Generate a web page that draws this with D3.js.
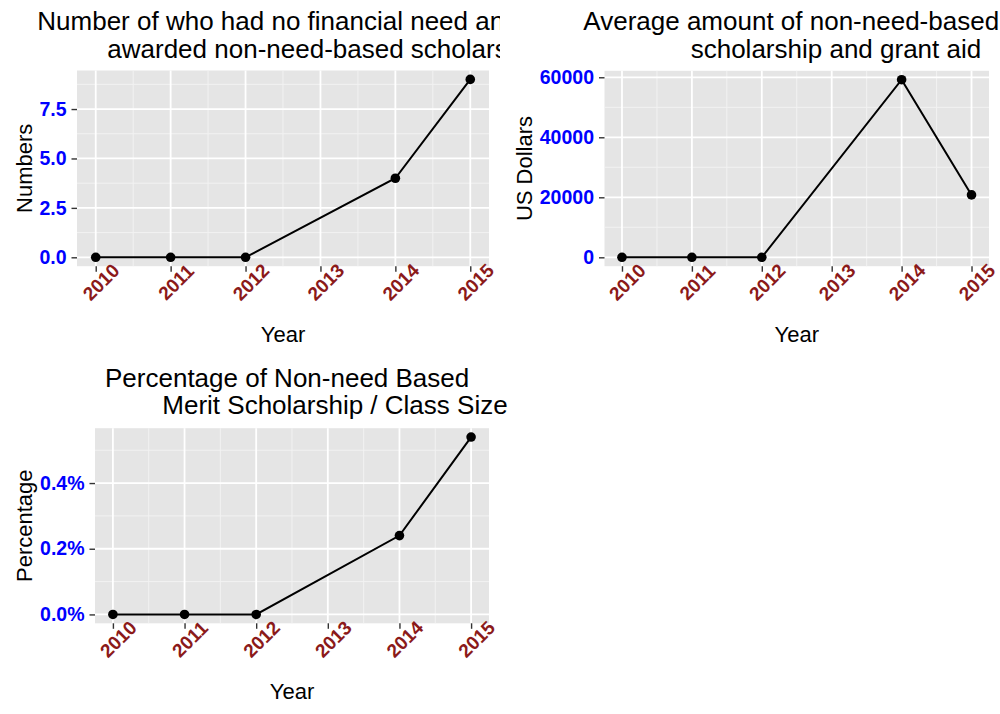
<!DOCTYPE html>
<html>
<head>
<meta charset="utf-8">
<script src="https://cdn.jsdelivr.net/npm/d3@7"></script>
<style>
  body { margin: 0; background: #fff; }
  svg { display: block; font-family: "Liberation Sans", Arial, Helvetica, sans-serif; }
</style>
</head>
<body>
<svg width="1000" height="714"></svg>
<script>
// data (2013 has no value)
const years = [2010, 2011, 2012, 2014, 2015];
const numbers = [0, 0, 0, 4, 9];
const avgAmount = [0, 0, 0, 59200, 20800];
const pctMerit = [0, 0, 0, 0.0024, 0.0054];
const yearTicks = [2010, 2011, 2012, 2013, 2014, 2015];
const numberTicks = [0, 2.5, 5, 7.5];
const amountTicks = [0, 20000, 40000, 60000];
const pctTicks = [0, 0.002, 0.004];

const svg = d3.select('svg');

// one ggplot-like panel
function drawPanel(opt) {
  const g = svg.append('g');
  // white sheet of the plot, hides overflow of the neighbour's title
  g.append('rect')
    .attr('x', opt.box[0]).attr('y', opt.box[1])
    .attr('width', opt.box[2]).attr('height', opt.box[3])
    .attr('fill', '#fff');

  const x = d3.scaleLinear().domain([2009.75, 2015.25]).range([opt.x0, opt.x1]);
  const maxV = d3.max(opt.values);
  const y = d3.scaleLinear().domain([-maxV * 0.05, maxV * 1.05]).range([opt.y1, opt.y0]);

  g.append('rect')
    .attr('x', opt.x0).attr('y', opt.y0)
    .attr('width', opt.x1 - opt.x0).attr('height', opt.y1 - opt.y0)
    .attr('fill', '#E5E5E5');

  // minor grid
  const xMinor = yearTicks.slice(0, -1).map(d => d + 0.5);
  const step = opt.ticks[1] - opt.ticks[0];
  const yMinor = opt.ticks.map(d => d + step / 2).filter(d => d < maxV * 1.05);
  g.selectAll('.xminor').data(xMinor).join('line')
    .attr('x1', d => x(d)).attr('x2', d => x(d))
    .attr('y1', opt.y0).attr('y2', opt.y1)
    .attr('stroke', '#F2F2F2').attr('stroke-width', 1);
  g.selectAll('.yminor').data(yMinor).join('line')
    .attr('x1', opt.x0).attr('x2', opt.x1)
    .attr('y1', d => y(d)).attr('y2', d => y(d))
    .attr('stroke', '#F2F2F2').attr('stroke-width', 1);
  // major grid
  g.selectAll('.xmajor').data(yearTicks).join('line')
    .attr('x1', d => x(d)).attr('x2', d => x(d))
    .attr('y1', opt.y0).attr('y2', opt.y1)
    .attr('stroke', '#fff').attr('stroke-width', 1.8);
  g.selectAll('.ymajor').data(opt.ticks).join('line')
    .attr('x1', opt.x0).attr('x2', opt.x1)
    .attr('y1', d => y(d)).attr('y2', d => y(d))
    .attr('stroke', '#fff').attr('stroke-width', 1.8);

  // y axis
  const ya = g.append('g').attr('transform', `translate(${opt.x0},0)`)
    .call(d3.axisLeft(y).tickValues(opt.ticks).tickFormat(opt.fmt).tickSize(5.5).tickPadding(5).tickSizeOuter(0));
  ya.select('.domain').remove();
  ya.selectAll('line').attr('stroke', '#333').attr('stroke-width', 1.4);
  ya.selectAll('text')
    .attr('fill', '#0000FF').attr('font-weight', 'bold').attr('font-size', '19.5px')
    .attr('font-family', '"Liberation Sans", Arial, sans-serif');

  // x axis
  const xa = g.append('g').attr('transform', `translate(0,${opt.y1})`)
    .call(d3.axisBottom(x).tickValues(yearTicks).tickFormat(d3.format('d')).tickSize(5.5).tickSizeOuter(0));
  xa.select('.domain').remove();
  xa.selectAll('line').attr('stroke', '#333').attr('stroke-width', 1.4);
  xa.selectAll('text')
    .attr('fill', '#8B1A1A').attr('font-weight', 'bold').attr('font-size', '19px')
    .attr('font-family', '"Liberation Sans", Arial, sans-serif')
    .attr('text-anchor', 'middle').attr('dy', null).attr('y', null)
    .attr('dominant-baseline', 'central')
    .attr('transform', 'translate(5,16) rotate(-45)');

  // line and points
  const pts = years.map((yr, i) => [yr, opt.values[i]]);
  g.append('path')
    .attr('d', d3.line().x(d => x(d[0])).y(d => y(d[1]))(pts))
    .attr('fill', 'none').attr('stroke', '#000').attr('stroke-width', 2);
  g.selectAll('.pt').data(pts).join('circle')
    .attr('cx', d => x(d[0])).attr('cy', d => y(d[1])).attr('r', 4.8)
    .attr('fill', '#000');

  // axis titles
  g.append('text')
    .attr('x', (opt.x0 + opt.x1) / 2).attr('y', opt.y1 + 75.5)
    .attr('text-anchor', 'middle').attr('font-size', '22px').attr('fill', '#000')
    .text('Year');
  g.append('text')
    .attr('transform', `translate(${opt.yTitleX},${(opt.y0 + opt.y1) / 2}) rotate(-90)`)
    .attr('text-anchor', 'middle').attr('font-size', '22px').attr('fill', '#000')
    .text(opt.yTitle);

  // title, two lines
  opt.title.forEach(t => {
    g.append('text')
      .attr('x', t.x).attr('y', t.y)
      .attr('font-size', '26px').attr('fill', '#000')
      .text(t.text);
  });
}

drawPanel({
  box: [0, 0, 500, 357],
  x0: 77, x1: 489, y0: 70.5, y1: 266.2,
  values: numbers, ticks: numberTicks, fmt: d3.format('.1f'),
  yTitle: 'Numbers', yTitleX: 32,
  title: [
    { text: 'Number of who had no financial need and', x: 37.3, y: 30 },
    { text: 'awarded non-need-based scholarship', x: 107.3, y: 58.3 }
  ]
});

drawPanel({
  box: [500, 0, 500, 357],
  x0: 604.5, x1: 989, y0: 70.8, y1: 266.2,
  values: avgAmount, ticks: amountTicks, fmt: d3.format('d'),
  yTitle: 'US Dollars', yTitleX: 532,
  title: [
    { text: 'Average amount of non-need-based', x: 583.3, y: 30 },
    { text: 'scholarship and grant aid', x: 690.7, y: 58.3 }
  ]
});

drawPanel({
  box: [0, 357, 500, 357],
  x0: 95, x1: 489, y0: 428.2, y1: 623.3,
  values: pctMerit, ticks: pctTicks, fmt: d3.format('.1%'),
  yTitle: 'Percentage', yTitleX: 32,
  title: [
    { text: 'Percentage of Non-need Based', x: 105, y: 386.7 },
    { text: 'Merit Scholarship / Class Size', x: 162.3, y: 414.3 }
  ]
});
</script>
</body>
</html>
